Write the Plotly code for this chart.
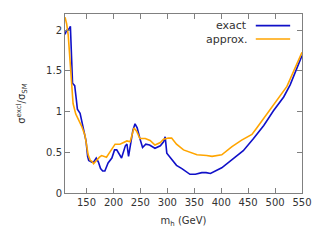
import plotly.graph_objects as go

# exact
exact_mh = [110, 113, 118, 120, 124, 128, 131, 133, 138, 142, 146, 149, 152, 154, 160, 163, 168, 172, 176,
            180, 184, 190, 197, 202, 206, 212, 215, 222, 225, 228, 232, 236, 240, 244, 249, 254, 260, 267,
            277, 287, 293, 296, 299, 308, 317, 327, 336, 342, 352, 364, 372, 380, 401, 423, 441, 460, 479,
            497, 516, 528, 550]
exact_ratio = [1.95, 2.00, 2.02, 2.05, 1.35, 1.32, 1.15, 1.03, 0.98, 0.84, 0.72, 0.64, 0.45, 0.40, 0.38, 0.38,
               0.43, 0.38, 0.30, 0.27, 0.27, 0.37, 0.43, 0.53, 0.53, 0.45, 0.43, 0.58, 0.60, 0.45, 0.64, 0.77,
               0.85, 0.80, 0.67, 0.56, 0.60, 0.59, 0.55, 0.58, 0.63, 0.69, 0.49, 0.41, 0.34, 0.30, 0.26, 0.23,
               0.23, 0.25, 0.25, 0.24, 0.31, 0.42, 0.52, 0.67, 0.83, 1.01, 1.18, 1.33, 1.69]

# approx.
approx_mh = [110, 113, 116, 119, 122, 125, 130, 134, 138, 141, 147, 150, 153, 157, 160, 163, 169, 174, 178,
             183, 187, 192, 197, 203, 212, 218, 225, 231, 235, 238, 243, 249, 259, 268, 277, 287, 293, 302,
             308, 317, 330, 342, 355, 373, 383, 401, 420, 438, 457, 466, 485, 503, 522, 550]
approx_ratio = [2.16, 2.08, 1.94, 1.61, 1.31, 1.10, 0.97, 0.92, 0.86, 0.82, 0.71, 0.60, 0.47, 0.40, 0.39, 0.36,
                0.41, 0.44, 0.46, 0.45, 0.44, 0.49, 0.54, 0.60, 0.60, 0.62, 0.64, 0.63, 0.72, 0.80, 0.76, 0.67,
                0.67, 0.645, 0.59, 0.62, 0.66, 0.675, 0.675, 0.60, 0.53, 0.50, 0.47, 0.46, 0.45, 0.47, 0.57,
                0.65, 0.72, 0.80, 0.97, 1.14, 1.31, 1.73]

series_names = ["exact", "approx."]
series_colors = ["#1010c8", "#ffa500"]

FONT = "DejaVu Sans"
TXT = "#333333"
AX = "#808080"

fig = go.Figure()
fig.add_trace(go.Scatter(x=exact_mh, y=exact_ratio, mode="lines", name=series_names[0],
                         line=dict(color=series_colors[0], width=1.6), showlegend=False))
fig.add_trace(go.Scatter(x=approx_mh, y=approx_ratio, mode="lines", name=series_names[1],
                         line=dict(color=series_colors[1], width=1.6), showlegend=False))

axis_common = dict(showline=True, linecolor=AX, linewidth=1, mirror="ticks", ticks="inside",
                   ticklen=5, tickcolor=AX, showgrid=False, zeroline=False,
                   tickfont=dict(family=FONT, size=10, color=TXT))

fig.update_xaxes(range=[110, 550], dtick=50, tick0=0,
                 title=dict(text="m<sub>h</sub> (GeV)", font=dict(family=FONT, size=10, color=TXT), standoff=9),
                 **axis_common)
fig.update_yaxes(range=[0, 2.2], dtick=0.5, tick0=0,
                 title=dict(text="σ<sup>excl</sup>/σ<sub>SM</sub>", font=dict(family=FONT, size=10, color=TXT), standoff=18),
                 **axis_common)

# legend (gnuplot style: text right-aligned, sample line on the right)
leg_y = [0.935, 0.86]
for name, color, yy in zip(series_names, series_colors, leg_y):
    fig.add_annotation(xref="paper", yref="paper", x=0.775, y=yy, text=name, showarrow=False,
                       xanchor="right", yanchor="middle", font=dict(family=FONT, size=11, color=TXT))
    fig.add_shape(type="line", xref="paper", yref="paper", x0=0.805, x1=0.95, y0=yy, y1=yy,
                  line=dict(color=color, width=1.6))

# page body has an 8px margin: size the figure so the plot area lands where the reference has it
fig.update_layout(width=312, height=232, margin=dict(l=57, r=18, t=6, b=47),
                  paper_bgcolor="white", plot_bgcolor="white",
                  font=dict(family=FONT, size=10, color=TXT))

fig.write_html("out.html")
